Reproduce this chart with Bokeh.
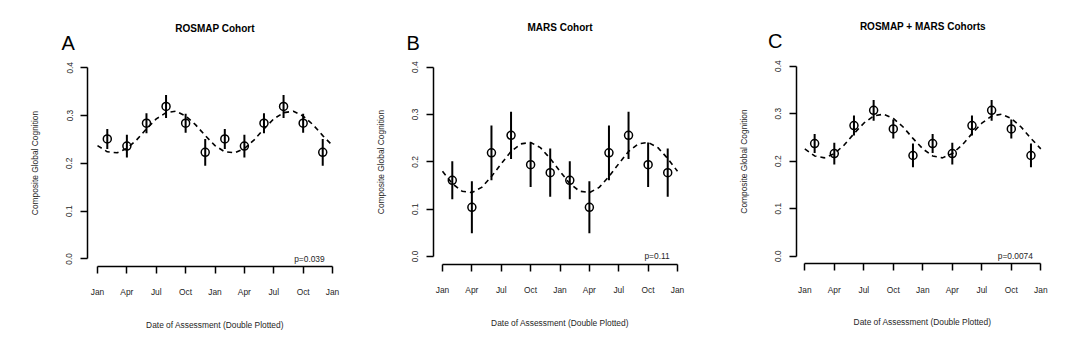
from bokeh.plotting import figure
from bokeh.layouts import row
from bokeh.models import FixedTicker, Label, Range1d
from bokeh.embed import file_html
from bokeh.resources import INLINE

# ---------------- data ----------------
month_ticks = [0, 3, 6, 9, 12, 15, 18, 21, 24]
month_labels = ["Jan", "Apr", "Jul", "Oct", "Jan", "Apr", "Jul", "Oct", "Jan"]
y_ticks = [0.0, 0.1, 0.2, 0.3, 0.4]
y_labels = ["0.0", "0.1", "0.2", "0.3", "0.4"]

bin_months = [1, 3, 5, 7, 9, 11]          # bimonthly bin centres (months after Jan 1)
fit_months = [0, 1, 2, 3, 4, 5, 6, 7, 8, 9, 10, 11, 12]

rosmap_mean = [0.251, 0.236, 0.284, 0.319, 0.284, 0.223]
rosmap_se = [0.021, 0.024, 0.021, 0.024, 0.020, 0.028]
rosmap_fit = [0.237, 0.224, 0.222, 0.231, 0.249, 0.272, 0.293, 0.306, 0.309, 0.299, 0.281, 0.258, 0.237]
rosmap_p = "p=0.039"

mars_mean = [0.161, 0.104, 0.219, 0.256, 0.194, 0.177]
mars_se = [0.040, 0.055, 0.058, 0.050, 0.047, 0.051]
mars_fit = [0.180, 0.154, 0.138, 0.135, 0.146, 0.169, 0.196, 0.222, 0.238, 0.241, 0.230, 0.207, 0.180]
mars_p = "p=0.11"

comb_mean = [0.237, 0.216, 0.275, 0.307, 0.268, 0.212]
comb_se = [0.020, 0.023, 0.021, 0.022, 0.020, 0.025]
comb_fit = [0.226, 0.211, 0.207, 0.216, 0.234, 0.258, 0.280, 0.295, 0.299, 0.290, 0.272, 0.248, 0.226]
comb_p = "p=0.0074"

titles = ["ROSMAP Cohort", "MARS Cohort", "ROSMAP + MARS Cohorts"]
letters = ["A", "B", "C"]

FONT = "Liberation Sans"
TXT = "#262626"


def make_panel(title, letter, pval, means, ses, fit, width, xr, yr, yaxis_at, xaxis_at):
    p = figure(width=width, height=340, output_backend="svg", toolbar_location=None,
               x_range=Range1d(*xr), y_range=Range1d(*yr),
               min_border=0, min_border_left=0, min_border_right=0,
               min_border_top=0, min_border_bottom=0)
    p.outline_line_color = None
    p.grid.visible = False
    p.background_fill_color = "white"
    p.border_fill_color = "white"

    for ax in (p.xaxis[0], p.yaxis[0]):
        ax.axis_line_width = 1.5
        ax.axis_line_color = "black"
        ax.major_tick_line_width = 1.5
        ax.major_tick_line_color = "black"
        ax.major_tick_out = 7
        ax.major_tick_in = 0
        ax.minor_tick_out = 0
        ax.minor_tick_in = 0
        ax.major_label_text_font = FONT
        ax.major_label_text_font_size = "8.4px"
        ax.major_label_text_color = TXT
        ax.axis_label_text_font = FONT
        ax.axis_label_text_font_size = "8.4px"
        ax.axis_label_text_font_style = "normal"
        ax.axis_label_text_color = TXT

    xa = p.xaxis[0]
    xa.ticker = FixedTicker(ticks=month_ticks)
    xa.major_label_overrides = {t: l for t, l in zip(month_ticks, month_labels)}
    xa.bounds = (month_ticks[0], month_ticks[-1])
    xa.axis_label = "Date of Assessment (Double Plotted)"
    xa.major_label_standoff = 14
    xa.axis_label_standoff = 19
    xa.fixed_location = xaxis_at

    ya = p.yaxis[0]
    ya.ticker = FixedTicker(ticks=y_ticks)
    ya.major_label_overrides = {t: l for t, l in zip(y_ticks, y_labels)}
    ya.bounds = (y_ticks[0], y_ticks[-1])
    ya.axis_label = "Composite Global Cognition"
    ya.major_label_orientation = "vertical"
    ya.major_label_standoff = 8
    ya.axis_label_standoff = 24
    ya.fixed_location = yaxis_at

    # double plotted data
    xs = bin_months + [m + 12 for m in bin_months]
    ys = means + means
    es = ses + ses
    lo = [y - e for y, e in zip(ys, es)]
    hi = [y + e for y, e in zip(ys, es)]
    fx = fit_months + [m + 12 for m in fit_months[1:]]
    fy = fit + fit[1:]

    p.line(fx, fy, line_color="black", line_width=1.6, line_dash="5 4")
    p.segment(x0=xs, y0=lo, x1=xs, y1=hi, line_color="black", line_width=2)
    p.scatter(xs, ys, marker="circle", size=8, fill_color=None,
              line_color="black", line_width=1.5)

    p.add_layout(Label(x=23.2, y=0.0, text=pval, text_align="right", text_baseline="middle",
                       text_font=FONT, text_font_size="8.4px", text_color=TXT))
    p.add_layout(Label(x=-3.0, y=0.452, text=letter, text_align="center", text_baseline="middle",
                       text_font=FONT, text_font_size="20px", text_color="black"))
    p.add_layout(Label(x=12, y=0.483, text=title, text_align="center", text_baseline="middle",
                       text_font=FONT, text_font_size="10px", text_font_style="bold",
                       text_color="black"))
    return p


# each figure's frame fills the figure; axes drawn at fixed data locations
pA = make_panel(titles[0], letters[0], rosmap_p, rosmap_mean, rosmap_se, rosmap_fit,
                352, (-9.906, 26.04), (-0.1711, 0.5409), -1.021, -0.0161)
pB = make_panel(titles[1], letters[1], mars_p, mars_mean, mars_se, mars_fit,
                360, (-9.191, 27.574), (-0.1775, 0.5409), -0.919, -0.0169)
pC = make_panel(titles[2], letters[2], comb_p, comb_mean, comb_se, comb_fit,
                352, (-9.387, 26.41), (-0.1775, 0.5383), -0.875, -0.016)

layout = row(pA, pB, pC, spacing=0)
open("out.html", "w").write(file_html(layout, INLINE))
